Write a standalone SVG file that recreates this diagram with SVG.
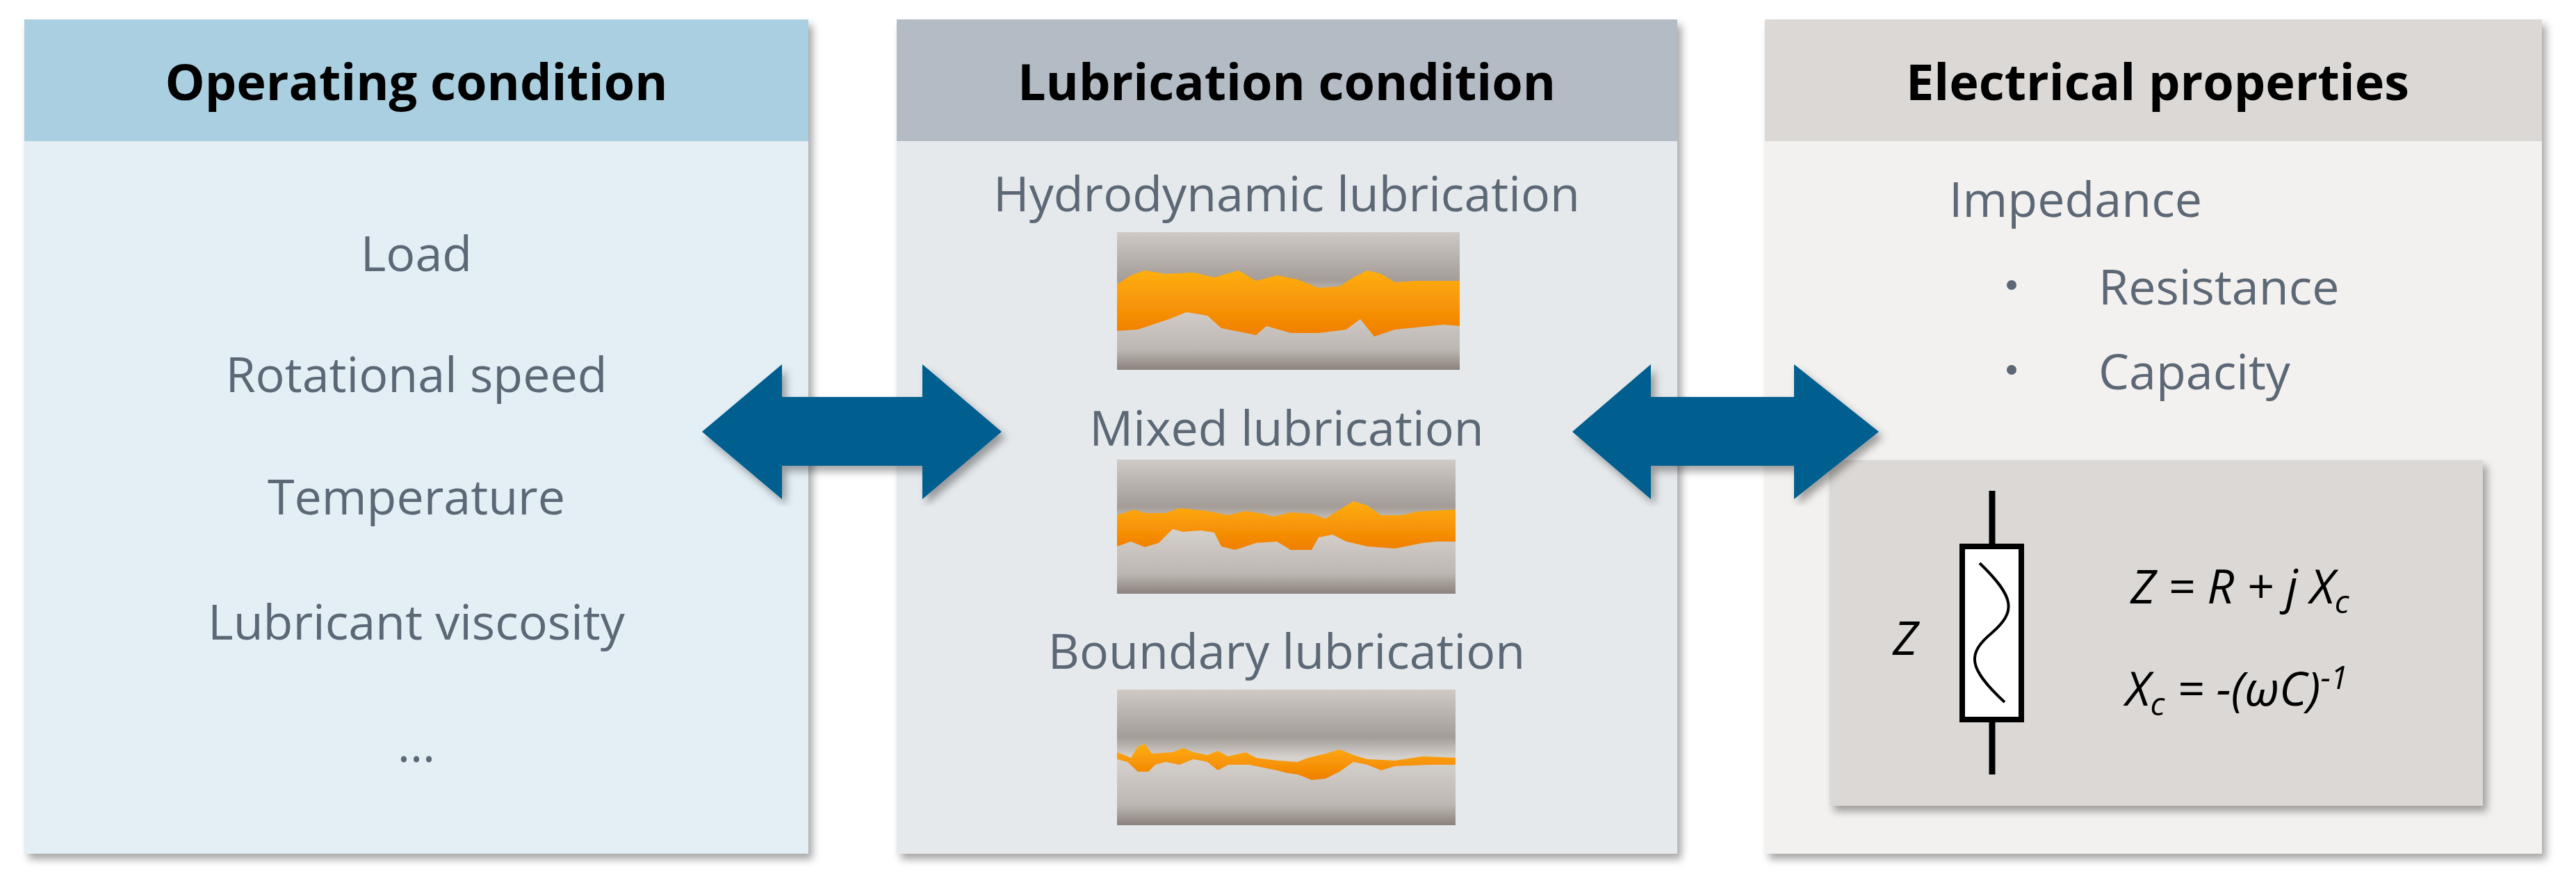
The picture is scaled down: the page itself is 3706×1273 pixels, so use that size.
<svg xmlns="http://www.w3.org/2000/svg" width="3706" height="1273" viewBox="0 0 3706 1273">
<style>
.t{font-family:"Open Sans","Liberation Sans",sans-serif;font-size:70px;fill:#5b6774;text-anchor:middle}
.h{font-family:"Open Sans","Liberation Sans",sans-serif;font-size:72px;font-weight:bold;fill:#000;text-anchor:middle}
.m{font-family:"Open Sans","Liberation Sans",sans-serif;font-size:68px;font-style:italic;fill:#000}
.o{fill:url(#og)}
.arr{fill:#005f8f}
</style>
<defs>
<filter id="sh" x="-5%" y="-5%" width="110%" height="110%"><feDropShadow dx="6" dy="8" stdDeviation="6" flood-color="#000" flood-opacity="0.35"/></filter>
<linearGradient id="gg" x1="0" y1="0" x2="0" y2="1"><stop offset="0" stop-color="#cfcac6"/><stop offset="0.35" stop-color="#a39c97"/><stop offset="0.5" stop-color="#d6d2ce"/><stop offset="0.85" stop-color="#bdb7b2"/><stop offset="1" stop-color="#8a827c"/></linearGradient>
<linearGradient id="og" x1="0" y1="0" x2="0" y2="1"><stop offset="0" stop-color="#ffae10"/><stop offset="1" stop-color="#f07e00"/></linearGradient>
</defs>
<rect width="3706" height="1273" fill="#fff"/>
<g id="operating" filter="url(#sh)">
<rect x="35" y="28" width="1128" height="1200" fill="#e3eef5"/>
<rect x="35" y="28" width="1128" height="175" fill="#a9cfe0"/>
<text class="h" x="599" y="144">Operating condition</text>
<text class="t" x="599" y="390">Load</text>
<text class="t" x="599" y="564">Rotational speed</text>
<text class="t" x="599" y="740">Temperature</text>
<text class="t" x="599" y="920">Lubricant viscosity</text>
<text class="t" x="599" y="1096">…</text>
</g>
<g id="lubrication" filter="url(#sh)">
<rect x="1290" y="28" width="1123" height="1200" fill="#e6e9ec"/>
<rect x="1290" y="28" width="1123" height="175" fill="#b3bbc5"/>
<text class="h" x="1851" y="144">Lubrication condition</text>
<text class="t" x="1851" y="304">Hydrodynamic lubrication</text>
<text class="t" x="1851" y="641">Mixed lubrication</text>
<text class="t" x="1851" y="962">Boundary lubrication</text>
<g transform="translate(1607,334)">
<rect width="493" height="198" fill="url(#gg)"/>
<path class="o" d="M0,75 L20,62 40,55 70,60 110,58 140,65 150,62 175,55 200,70 230,62 260,68 290,80 320,78 340,65 360,55 380,60 400,72 430,70 493,70 493,135 470,133 400,140 370,150 350,125 330,140 290,145 250,145 215,135 200,148 150,138 130,120 100,115 75,125 30,140 0,142Z"/>
</g>
<g transform="translate(1607,661)">
<rect width="487" height="193" fill="url(#gg)"/>
<path class="o" d="M0,80 L25,72 40,77 70,77 90,70 130,74 150,78 160,80 185,74 210,78 225,82 250,76 280,78 300,85 320,72 340,60 360,66 380,80 410,80 430,75 487,72 487,118 460,118 440,120 400,128 360,125 330,118 310,108 290,112 280,130 250,130 230,118 200,120 170,130 150,125 140,105 120,102 95,104 80,100 60,120 40,126 20,118 0,125Z"/>
</g>
<g transform="translate(1607,992)">
<rect width="487" height="195" fill="url(#gg)"/>
<path class="o" d="M0,90 L20,98 30,82 40,78 50,92 80,90 95,84 110,90 130,94 145,88 160,96 185,90 200,98 230,102 260,104 275,98 300,92 320,86 340,94 360,100 400,102 440,96 487,98 487,108 450,108 400,110 380,116 360,108 340,104 320,118 300,128 280,130 260,122 245,120 230,116 210,112 190,108 160,108 145,116 130,104 110,100 90,108 70,104 55,108 45,118 30,118 15,104 0,100Z"/>
</g>
</g>
<g id="electrical" filter="url(#sh)">
<rect x="2539" y="28" width="1118" height="1200" fill="#f3f1ef"/>
<rect x="2539" y="28" width="1118" height="175" fill="#dcd8d5"/>
<text class="h" x="3104" y="144">Electrical properties</text>
<text class="t" x="2804" y="312" style="text-anchor:start">Impedance</text>
<circle cx="2894" cy="410" r="7" fill="#5b6774"/>
<circle cx="2894" cy="532" r="7" fill="#5b6774"/>
<text class="t" x="3019" y="438" style="text-anchor:start">Resistance</text>
<text class="t" x="3019" y="560" style="text-anchor:start">Capacity</text>
<g id="formula" filter="url(#sh)">
<rect x="2632" y="662" width="940" height="497" fill="#dcd8d5"/>
</g>
<line x1="2866" y1="706" x2="2866" y2="1114" stroke="#000" stroke-width="9"/>
<rect x="2823" y="786" width="85" height="249" fill="#fff" stroke="#000" stroke-width="8"/>
<path d="M2848,810 C2900,860 2900,880 2866,910 C2830,940 2830,960 2884,1010" fill="none" stroke="#000" stroke-width="4"/>
<text class="m" x="2723" y="942">Z</text>
<text class="m" x="3065" y="868">Z = R + j X<tspan font-size="46" dy="14">c</tspan></text>
<text class="m" x="3058" y="1015">X<tspan font-size="46" dy="14">c</tspan><tspan dy="-14"> = -(ωC)</tspan><tspan font-size="46" dy="-24">-1</tspan></text>
</g>
<g id="connectors">
<path class="arr" filter="url(#sh)" d="M1010,621 L1125,524 1125,571 1327,571 1327,524 1441,621 1327,718 1327,670 1125,670 1125,718Z"/>
<path class="arr" filter="url(#sh)" d="M2262,621 L2375,524 2375,571 2581,571 2581,524 2703,621 2581,718 2581,670 2375,670 2375,718Z"/>
</g>
</svg>
